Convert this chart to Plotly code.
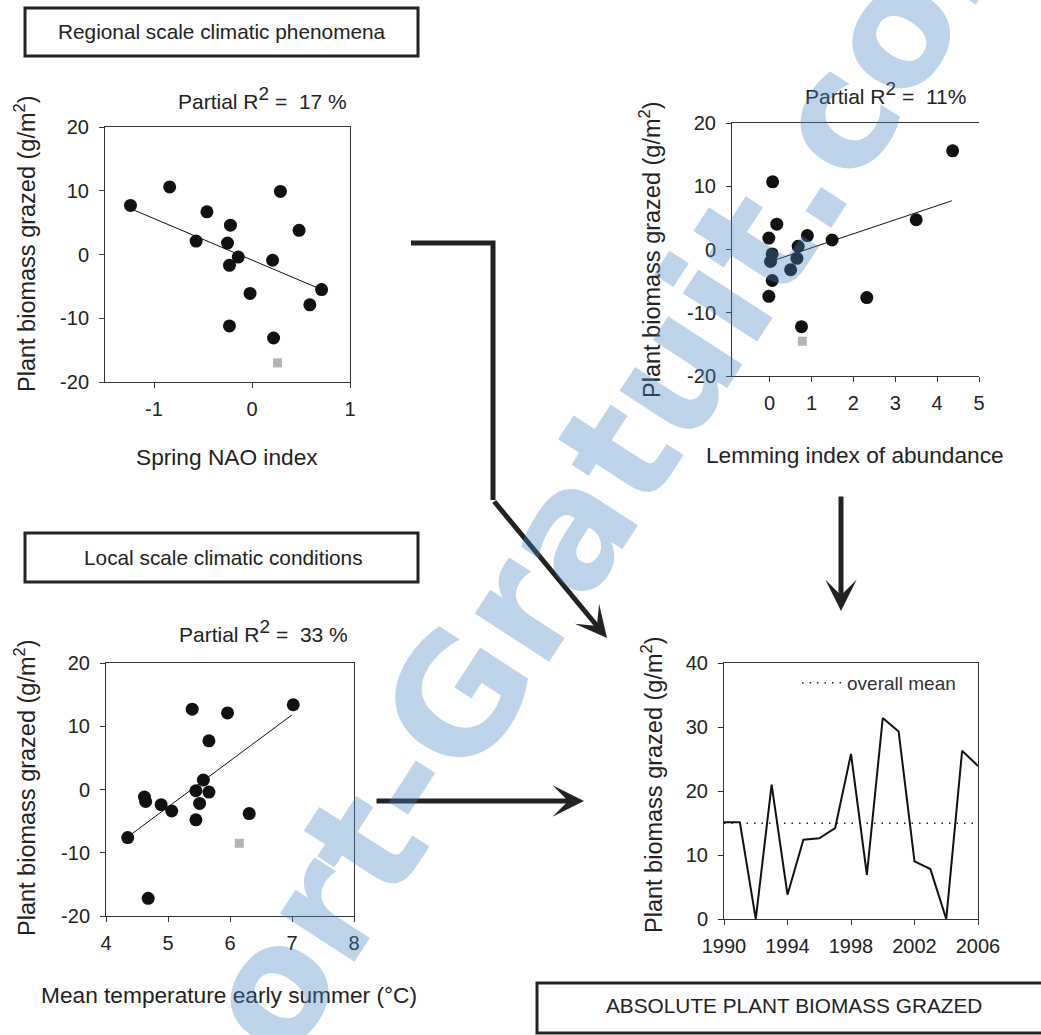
import numpy as np
import plotly.graph_objects as go

# ---------------- data ----------------
nao_x = [-1.24, -0.84, -0.46, -0.57, -0.22, -0.25, -0.14, -0.23, -0.02, -0.23, 0.21, 0.29, 0.48, 0.71, 0.59, 0.22]
nao_y = [7.7, 10.6, 6.7, 2.1, 4.6, 1.8, -0.4, -1.7, -6.1, -11.2, -0.9, 9.9, 3.8, -5.5, -7.9, -13.1]
nao_out_x = [0.26]
nao_out_y = [-17.0]
nao_fit_x = [-1.24, 0.71]
nao_fit_y = [7.2, -5.5]

lem_x = [4.37, 3.50, 2.32, 1.49, 0.90, 0.68, 0.65, 0.50, 0.76, 0.07, 0.17, -0.02, 0.06, 0.02, 0.06, -0.02]
lem_y = [15.6, 4.7, -7.6, 1.5, 2.2, 0.5, -1.4, -3.2, -12.2, 10.7, 4.0, 1.8, -0.7, -1.9, -4.9, -7.4]
lem_out_x = [0.78]
lem_out_y = [-14.5]
lem_fit_x = [0.02, 4.35]
lem_fit_y = [-1.9, 7.7]

tmp_x = [4.35, 4.68, 4.62, 4.64, 4.89, 5.06, 5.39, 5.45, 5.45, 5.51, 5.57, 5.66, 5.66, 5.96, 6.31, 7.02]
tmp_y = [-7.6, -17.2, -1.2, -1.9, -2.4, -3.4, 12.7, -0.2, -4.8, -2.2, 1.5, -0.4, 7.7, 12.1, -3.8, 13.4]
tmp_out_x = [6.15]
tmp_out_y = [-8.5]
tmp_fit_x = [4.35, 7.0]
tmp_fit_y = [-7.5, 11.8]

years = list(range(1990, 2007))
biomass = [15.1, 15.1, 0.0, 21.0, 3.8, 12.4, 12.6, 14.2, 25.8, 6.9, 31.4, 29.3, 9.0, 7.8, 0.0, 26.3, 23.9]
overall_mean = float(np.mean(biomass))

resid_ticks = [-20, -10, 0, 10, 20]
resid_ticktext = ['-20', '-10', '0', '10', '20']
nao_ticks = [-1, 0, 1]
nao_ticktext = ['-1', '0', '1']
lem_ticks = [0, 1, 2, 3, 4, 5]
tmp_ticks = [4, 5, 6, 7, 8]
year_ticks = [1990, 1994, 1998, 2002, 2006]
abs_ticks = [0, 10, 20, 30, 40]

# ---------------- layout helpers ----------------
W, H = 1041, 1035
FONT = "Arial, 'Liberation Sans', sans-serif"
INK = '#222222'


def px(x):
    return x / W


def py(y):
    return 1 - y / H


def axis(dom, rng, tickvals, ticktext=None, is_x=True, mirror=True, anchor=None):
    d = dict(
        domain=dom, range=rng, tickvals=tickvals, showline=True, linecolor='#333',
        linewidth=1, mirror=mirror, ticks='outside', ticklen=5, tickcolor='#333',
        tickfont=dict(size=20, color=INK, family=FONT), showgrid=False, zeroline=False,
        ticklabelstandoff=4 if is_x else 6, fixedrange=True, anchor=anchor, automargin=False,
    )
    if ticktext is not None:
        d['ticktext'] = ticktext
    return d


fig = go.Figure()

black_marker = dict(color='#111111', size=13, symbol='circle', line=dict(width=0))
grey_marker = dict(color='#b4b4b4', size=9, symbol='square', line=dict(width=0))
fit_line = dict(color='#111111', width=1)

panels = [
    ('x', 'y', nao_x, nao_y, nao_out_x, nao_out_y, nao_fit_x, nao_fit_y),
    ('x2', 'y2', lem_x, lem_y, lem_out_x, lem_out_y, lem_fit_x, lem_fit_y),
    ('x3', 'y3', tmp_x, tmp_y, tmp_out_x, tmp_out_y, tmp_fit_x, tmp_fit_y),
]
for xa, ya, sx, sy, ox, oy, fx, fy in panels:
    fig.add_trace(go.Scatter(x=fx, y=fy, mode='lines', line=fit_line, xaxis=xa, yaxis=ya,
                             showlegend=False, hoverinfo='skip'))
    fig.add_trace(go.Scatter(x=ox, y=oy, mode='markers', marker=grey_marker, xaxis=xa, yaxis=ya,
                             showlegend=False))
    fig.add_trace(go.Scatter(x=sx, y=sy, mode='markers', marker=black_marker, xaxis=xa, yaxis=ya,
                             showlegend=False))

fig.add_trace(go.Scatter(x=[years[0], years[-1]], y=[overall_mean, overall_mean], mode='lines',
                         line=dict(color='#222', width=1.5, dash='1.5px,6px'),
                         xaxis='x4', yaxis='y4', name='overall mean', showlegend=True))
fig.add_trace(go.Scatter(x=years, y=biomass, mode='lines', line=dict(color='#111', width=2),
                         xaxis='x4', yaxis='y4', showlegend=False))

fig.update_layout(
    width=W, height=H, margin=dict(l=0, r=0, t=0, b=0, autoexpand=False),
    paper_bgcolor='white', plot_bgcolor='white',
    font=dict(family=FONT, color=INK),
    xaxis=axis([px(105), px(350)], [-1.5, 1], nao_ticks, nao_ticktext, anchor='y'),
    yaxis=axis([py(382), py(127)], [-20, 20], resid_ticks, resid_ticktext, is_x=False, anchor='x'),
    xaxis2=axis([px(732), px(979)], [-0.9, 5], lem_ticks, anchor='y2'),
    yaxis2=axis([py(376), py(123)], [-20, 20], resid_ticks, resid_ticktext, is_x=False, mirror=False, anchor='x2'),
    xaxis3=axis([px(106), px(354)], [4, 8], tmp_ticks, anchor='y3'),
    yaxis3=axis([py(916), py(663)], [-20, 20], resid_ticks, resid_ticktext, is_x=False, anchor='x3'),
    xaxis4=axis([px(724), px(978)], [1990, 2006], year_ticks, anchor='y4'),
    yaxis4=axis([py(919), py(663)], [0, 40], abs_ticks, is_x=False, anchor='x4'),
    legend=dict(x=px(797), y=py(683), xanchor='left', yanchor='middle', bgcolor='rgba(0,0,0,0)',
                font=dict(size=19, color='#333', family=FONT), itemwidth=40),
    showlegend=True,
)

ann = []


def text(x, y, s, size, angle=0, color=INK):
    ann.append(dict(x=px(x), y=py(y), xref='paper', yref='paper', text=s, showarrow=False,
                    textangle=angle, xanchor='center', yanchor='middle',
                    font=dict(size=size, color=color, family=FONT)))


r2 = 'Partial R<sup><span style="font-size:19px">2</span></sup> =  '
# panel titles
text(262, 98, r2 + '17 %', 21)
text(885, 93, r2 + '11%', 21)
text(263, 631, r2 + '33 %', 21)
# y-axis titles
ytitle = 'Plant biomass grazed (g/m<sup>2</sup>)'
text(25, 244, ytitle, 23.5, -90)
text(650, 250, ytitle, 23.5, -90)
text(25, 788, ytitle, 23.5, -90)
text(652, 785, ytitle, 23.5, -90)
# x-axis titles
text(227, 457, 'Spring NAO index', 22.7)
text(855, 455, 'Lemming index of abundance', 22.7)
text(229, 995, 'Mean temperature early summer (°C)', 22.7)
# box labels
text(222, 31, 'Regional scale climatic phenomena', 20.8)
text(223, 557, 'Local scale climatic conditions', 20.8)
text(794, 1005, 'ABSOLUTE PLANT BIOMASS GRAZED', 20.8)


def arrow(tail, head):
    ann.append(dict(x=px(head[0]), y=py(head[1]), xref='paper', yref='paper', text='',
                    showarrow=True, ax=tail[0] - head[0], ay=tail[1] - head[1],
                    axref='pixel', ayref='pixel', arrowhead=3, arrowsize=1.05,
                    arrowwidth=5, arrowcolor='#222'))


arrow((493, 500), (607, 638))
arrow((375, 801), (584, 801))
arrow((841, 495), (841, 611))

# watermark
ann.append(dict(x=px(531), y=py(587), xref='paper', yref='paper', text='<b>Report-Gratuit.com</b>',
                showarrow=False, textangle=-57, xanchor='center', yanchor='middle',
                font=dict(size=162, color='rgba(72,133,197,0.36)', family="'DejaVu Sans', sans-serif")))

fig.update_layout(annotations=ann)

shapes = []
for (x0, y0, x1, y1) in [(25, 8, 418, 56), (25, 533, 418, 582), (537, 983, 1048, 1033)]:
    shapes.append(dict(type='rect', xref='paper', yref='paper', x0=px(x0), x1=px(x1), y0=py(y1), y1=py(y0),
                       line=dict(color='#222', width=3), fillcolor='rgba(0,0,0,0)'))
shapes.append(dict(type='path', xref='paper', yref='paper',
                   path=f'M {px(411)},{py(243)} L {px(493)},{py(243)} L {px(493)},{py(500)}',
                   line=dict(color='#222', width=5)))
fig.update_layout(shapes=shapes)

fig.write_html('out.html', config={'displayModeBar': False},
               post_script="document.body.style.margin='0';")
